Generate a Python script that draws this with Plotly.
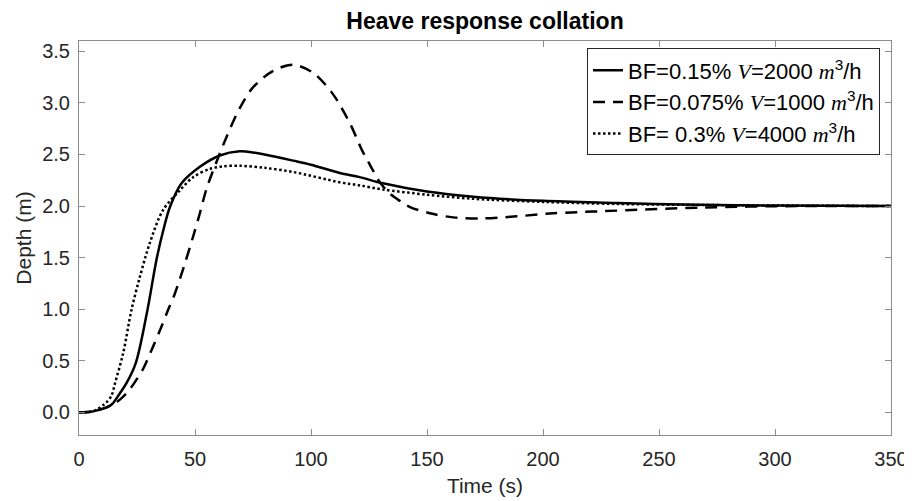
import plotly.graph_objects as go

# ---- data ----
t_bf015 = [0, 5, 8, 11, 13, 14.7, 17.5, 20.4, 24.5, 29.4, 33.4, 36.5, 39.2, 44.2, 52.1, 60.7,
           69.3, 75, 80, 92.3, 100, 112.4, 121, 131, 150, 170, 200, 232, 260, 300, 350]
v_bf015 = [0, 0.005, 0.02, 0.04, 0.06, 0.09, 0.18, 0.28, 0.48, 0.98, 1.48, 1.78, 1.99, 2.22, 2.38, 2.49,
           2.53, 2.52, 2.50, 2.44, 2.40, 2.32, 2.28, 2.22, 2.14, 2.09, 2.05, 2.03, 2.015, 2.005, 2.0]

t_bf0075 = [0, 5, 8, 11, 13, 15, 18, 21.1, 24, 27.6, 31, 34.8, 38, 41.3, 45.6, 49, 52.1, 55, 59.3,
            63.6, 69.3, 75, 83.7, 92.3, 101, 109.6, 116.8, 122, 125.4, 129.7, 134, 138.3, 142.7,
            151.3, 161.3, 174.3, 188.7, 204.5, 226, 267.8, 310, 350]
v_bf0075 = [0, 0.005, 0.02, 0.04, 0.06, 0.08, 0.13, 0.20, 0.29, 0.42, 0.59, 0.79, 0.97, 1.15, 1.44, 1.69, 1.93,
            2.17, 2.43, 2.67, 2.95, 3.15, 3.31, 3.37, 3.29, 3.08, 2.80, 2.54, 2.40, 2.23, 2.12, 2.05, 1.99,
            1.93, 1.89, 1.88, 1.90, 1.93, 1.95, 1.985, 2.0, 2.0]

t_bf03 = [0, 5, 8, 10.4, 12, 14, 15.5, 19, 22.6, 26.2, 30.5, 36.2, 43.4, 49.2, 56.4, 62, 69.3,
          80, 92.3, 112.4, 121, 131, 150, 170, 200, 232, 270, 300, 350]
v_bf03 = [0, 0.005, 0.03, 0.07, 0.10, 0.16, 0.28, 0.57, 0.99, 1.31, 1.64, 1.96, 2.15, 2.28, 2.36, 2.385, 2.39,
          2.37, 2.33, 2.23, 2.20, 2.16, 2.11, 2.07, 2.04, 2.02, 2.01, 2.005, 2.0]

x_ticks = [0, 50, 100, 150, 200, 250, 300, 350]
y_ticks = [0, 0.5, 1, 1.5, 2, 2.5, 3, 3.5]
y_ticktext = ["0.0", "0.5", "1.0", "1.5", "2.0", "2.5", "3.0", "3.5"]

SANS = "Liberation Sans, Arial, sans-serif"
SERIF = "'Liberation Serif', 'DejaVu Serif', serif"
def label(bf, vol):
    return (f"BF={bf} <span style=\"font-family:{SERIF}\"><i>V</i></span>={vol} "
            f"<span style=\"font-family:{SERIF}\"><i>m</i></span><sup>3</sup>/h")

names = [label("0.15%", 2000), label("0.075%", 1000), label("&nbsp;0.3%", 4000)]
series = [(t_bf015, v_bf015, "solid"), (t_bf0075, v_bf0075, "12px,8px"), (t_bf03, v_bf03, "2.5px,2.5px")]

fig = go.Figure()
for i, ((t, v, dash), nm) in enumerate(zip(series, names)):
    fig.add_trace(go.Scatter(
        x=t, y=v, mode="lines", name=nm,
        line=dict(color="black", width=2.5, dash=dash, shape="spline", smoothing=0.9),
    ))

axis_common = dict(
    showline=True, linecolor="#8c8c8c", linewidth=1, mirror="ticks",
    ticks="inside", ticklen=6, tickcolor="#8c8c8c", showgrid=False, zeroline=False,
    automargin=False,
    tickfont=dict(family=SANS, size=20, color="#262626"),
)

# page body has an 8px default margin, so the figure is 8px smaller than the window
W, H = 904, 493
fig.update_layout(
    width=W, height=H,
    margin=dict(l=71, r=21, t=33, b=66),
    paper_bgcolor="white", plot_bgcolor="white",
    font=dict(family=SANS, color="#262626"),
    title=dict(text="<b>Heave response collation</b>", x=0.5, xref="paper", xanchor="center",
               y=1 - 13 / H, yref="container", yanchor="middle",
               font=dict(size=23, color="black")),
    xaxis=dict(range=[0, 350], tickvals=x_ticks, ticklabelstandoff=6,
               title=dict(text="Time (s)", font=dict(size=21), standoff=9), **axis_common),
    yaxis=dict(range=[-0.22, 3.6], tickvals=y_ticks, ticktext=y_ticktext, ticklabelstandoff=4,
               title=dict(text="Depth (m)", font=dict(size=21), standoff=4), **axis_common),
    legend=dict(x=0.6256, y=0.981, xanchor="left", yanchor="top",
                bgcolor="white", bordercolor="#262626", borderwidth=1,
                font=dict(size=22, color="black"), itemwidth=30),
    showlegend=True,
)

fig.write_html("out.html")
